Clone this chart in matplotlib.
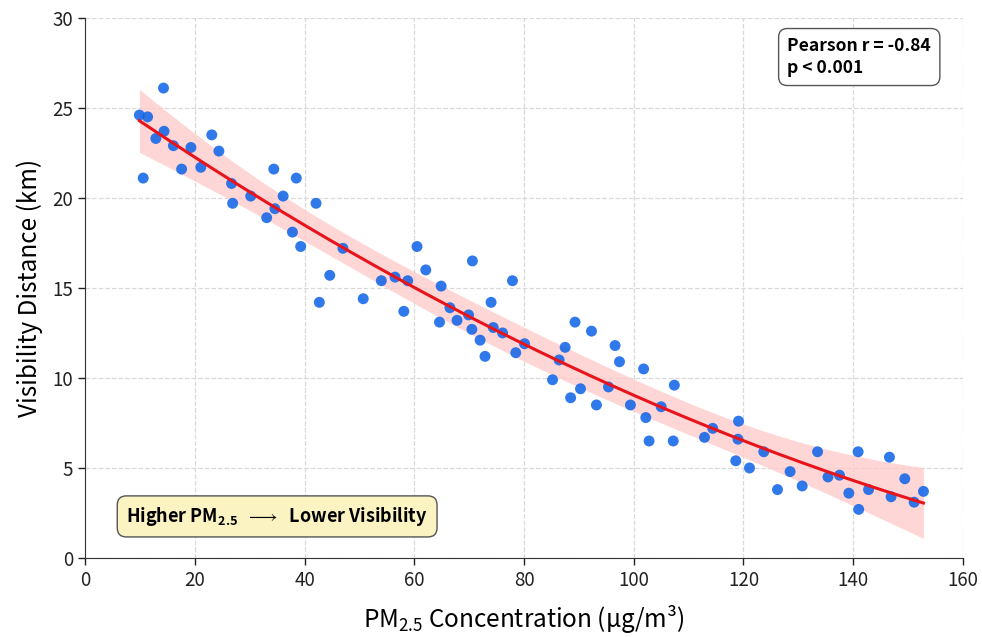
import numpy as np
import matplotlib
matplotlib.use("Agg")
import matplotlib.pyplot as plt

# PM2.5 (ug/m3) vs visibility (km)
pm25 = [9.9, 10.6, 11.4, 12.9, 14.3, 14.4, 16.1, 17.6, 19.3, 21.1, 23.1, 24.4,
        26.7, 26.9, 30.2, 33.1, 34.4, 34.6, 36.1, 37.8, 38.5, 39.3, 42.1, 42.7,
        44.6, 47.0, 50.7, 54.0, 56.5, 58.1, 58.8, 60.5, 62.1, 64.6, 64.9, 66.5,
        67.8, 69.9, 70.5, 70.6, 72.0, 72.9, 74.0, 74.4, 76.1, 77.9, 78.5, 80.1,
        85.2, 86.4, 87.5, 88.5, 89.3, 90.3, 92.3, 93.2, 95.4, 96.6, 97.4, 99.4,
        101.8, 102.2, 102.8, 105.0, 107.2, 107.4, 112.9, 114.4, 118.6, 119.0,
        119.1, 121.1, 123.7, 126.2, 128.5, 130.7, 133.5, 135.4, 137.5, 139.2,
        140.9, 141.0, 142.8, 146.6, 146.9, 149.4, 151.1, 152.8]
visibility = [24.6, 21.1, 24.5, 23.3, 26.1, 23.7, 22.9, 21.6, 22.8, 21.7, 23.5, 22.6,
              20.8, 19.7, 20.1, 18.9, 21.6, 19.4, 20.1, 18.1, 21.1, 17.3, 19.7, 14.2,
              15.7, 17.2, 14.4, 15.4, 15.6, 13.7, 15.4, 17.3, 16.0, 13.1, 15.1, 13.9,
              13.2, 13.5, 12.7, 16.5, 12.1, 11.2, 14.2, 12.8, 12.5, 15.4, 11.4, 11.9,
              9.9, 11.0, 11.7, 8.9, 13.1, 9.4, 12.6, 8.5, 9.5, 11.8, 10.9, 8.5,
              10.5, 7.8, 6.5, 8.4, 6.5, 9.6, 6.7, 7.2, 5.4, 6.6,
              7.6, 5.0, 5.9, 3.8, 4.8, 4.0, 5.9, 4.5, 4.6, 3.6,
              5.9, 2.7, 3.8, 5.6, 3.4, 4.4, 3.1, 3.7]

x_ticks = [0, 20, 40, 60, 80, 100, 120, 140, 160]
y_ticks = [0, 5, 10, 15, 20, 25, 30]

x = np.array(pm25)
y = np.array(visibility)

# quadratic trend + shaded band
coef, cov = np.polyfit(x, y, 2, cov=True)
xs = np.linspace(x.min(), x.max(), 200)
X = np.vstack([xs**2, xs, np.ones_like(xs)]).T
fit = X @ coef
se = np.sqrt(np.einsum("ij,jk,ik->i", X, cov, X))
band = se / se.min() * 0.85

plt.rcParams['font.family'] = ['Noto Sans CJK JP', 'DejaVu Sans']
plt.rcParams['mathtext.fontset'] = 'custom'
plt.rcParams['mathtext.rm'] = 'Noto Sans CJK JP'
plt.rcParams['mathtext.bf'] = 'Noto Sans CJK JP:bold'

fig = plt.figure(figsize=(9.82, 6.37), dpi=100)
ax = fig.add_axes([0.0866, 0.124, 0.894, 0.848])

ax.fill_between(xs, fit - band, fit + band, color='#ffc9c9', alpha=0.75, lw=0, zorder=1)
ax.scatter(x, y, s=62, color='#1366e8', alpha=0.88, edgecolors='none', zorder=3)
ax.plot(xs, fit, color='#e8141c', lw=2.2, zorder=4)

ax.set_xlim(0, 160)
ax.set_ylim(0, 30)
ax.set_xticks(x_ticks)
ax.set_yticks(y_ticks)
ax.tick_params(labelsize=13.5, length=5, width=1, colors='#222222')
ax.grid(True, ls='--', color='#d9d9d9', lw=0.9)
ax.set_axisbelow(True)
for s in ['top', 'right']:
    ax.spines[s].set_visible(False)
for s in ['left', 'bottom']:
    ax.spines[s].set_color('#333333')

ax.set_xlabel(r'PM$_{\mathrm{2.5}}$ Concentration (μg/m³)', fontsize=17.5, labelpad=9)
ax.set_ylabel('Visibility Distance (km)', fontsize=17.5, labelpad=7)

ax.text(0.8, 0.964, 'Pearson r = -0.84\np < 0.001', transform=ax.transAxes,
        fontsize=12.6, fontweight='bold', va='top', ha='left', linespacing=1.25,
        bbox=dict(boxstyle='round,pad=0.5', fc='white', ec='#555555', lw=1))

ax.text(0.047, 0.077, r'Higher PM$_{\mathbf{2.5}}$  $\longrightarrow$  Lower Visibility',
        transform=ax.transAxes, fontsize=13, fontweight='bold', va='center', ha='left',
        bbox=dict(boxstyle='round,pad=0.5', fc='#fbf3c2', ec='#555555', lw=1))

fig.savefig('out.png', dpi=100)
